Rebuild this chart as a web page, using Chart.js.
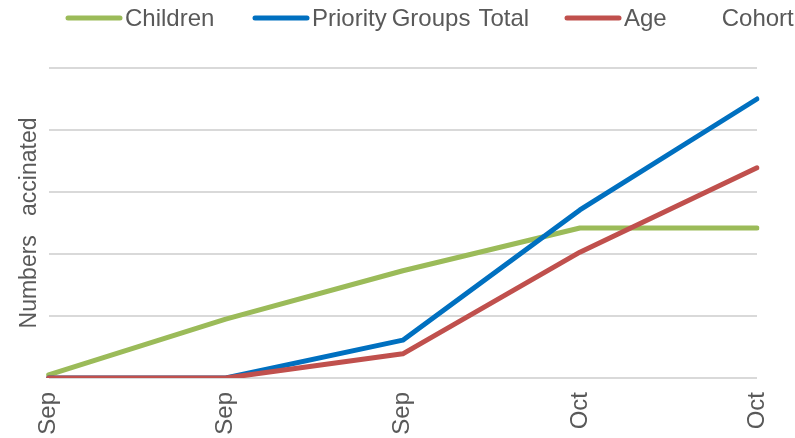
<!DOCTYPE html>
<html>
<head>
<meta charset="utf-8">
<script src="https://cdn.jsdelivr.net/npm/chart.js@4/dist/chart.umd.min.js"></script>
<style>
  html, body { margin: 0; padding: 0; background: #ffffff; }
  #wrap { width: 795px; height: 438px; position: relative; }
</style>
</head>
<body>
<div id="wrap"><canvas id="chart"></canvas></div>
<script>
// Weekly dates along the x axis
const categories = ['Sep', 'Sep', 'Sep', 'Oct', 'Oct'];

// Cumulative numbers vaccinated per group
const childrenValues = [0.05, 0.95, 1.73, 2.42, 2.42];
const priorityGroupsTotalValues = [0, 0, 0.61, 2.71, 4.5];
const ageCohortValues = [0, 0, 0.39, 2.03, 3.39];

const seriesNames = ['Children', 'Priority Groups Total', 'Age Cohort'];
const yAxisTitle = 'Numbers   accinated';

const TEXT = '#595959';
const FONT = '"Liberation Sans", Arial, sans-serif';

// Legend drawn across the top: line swatch followed by the label words
const topLegend = {
  id: 'topLegend',
  afterDraw(chart) {
    const ctx = chart.ctx;
    const starts = [66, 253, 565];
    const wordGaps = [[], [5, 8], [55]];
    const swatchW = 56, y = 18;
    ctx.save();
    ctx.font = '24px ' + FONT;
    ctx.textBaseline = 'middle';
    chart.data.datasets.forEach((ds, i) => {
      let x = starts[i];
      ctx.strokeStyle = ds.borderColor;
      ctx.lineWidth = 5;
      ctx.lineCap = 'round';
      ctx.beginPath();
      ctx.moveTo(x + 2, y);
      ctx.lineTo(x + swatchW - 2, y);
      ctx.stroke();
      x += swatchW + 3;
      ctx.fillStyle = TEXT;
      const words = ds.label.split(' ');
      words.forEach((w, k) => {
        ctx.fillText(w, x, y + 1);
        x += ctx.measureText(w).width + (wordGaps[i][k] !== undefined ? wordGaps[i][k] : 6);
      });
    });
    ctx.restore();
  }
};

const line = (label, data, color, order) => ({
  label, data,
  borderColor: color,
  backgroundColor: color,
  borderWidth: 5,
  borderCapStyle: 'round',
  borderJoinStyle: 'round',
  pointRadius: 0,
  pointHoverRadius: 0,
  tension: 0,
  fill: false,
  order
});

new Chart(document.getElementById('chart'), {
  type: 'line',
  data: {
    labels: categories,
    datasets: [
      line(seriesNames[0], childrenValues, '#9BBB59', 2),
      line(seriesNames[1], priorityGroupsTotalValues, '#0070C0', 1),
      line(seriesNames[2], ageCohortValues, '#C0504D', 0)
    ]
  },
  options: {
    responsive: true,
    maintainAspectRatio: false,
    animation: false,
    layout: { padding: { top: 68, right: 38, bottom: 0, left: 16 } },
    plugins: {
      legend: { display: false },
      tooltip: { enabled: false }
    },
    scales: {
      x: {
        offset: false,
        grid: { display: false, drawTicks: false },
        border: { display: false },
        afterFit(scale) {
          scale.height = 60;
          scale.paddingLeft = 0;
          scale.paddingRight = 0;
        },
        ticks: {
          color: TEXT,
          font: { family: FONT, size: 24 },
          minRotation: 90,
          maxRotation: 90,
          padding: 14,
          autoSkip: false
        }
      },
      y: {
        min: 0,
        max: 5,
        grid: { color: '#d9d9d9', lineWidth: 2, drawTicks: false },
        border: { display: false },
        ticks: { display: false, stepSize: 1 },
        title: {
          display: true,
          text: yAxisTitle,
          color: TEXT,
          font: { family: FONT, size: 23 },
          padding: { top: 0, bottom: 5 }
        }
      }
    }
  },
  plugins: [topLegend]
});
</script>
</body>
</html>
